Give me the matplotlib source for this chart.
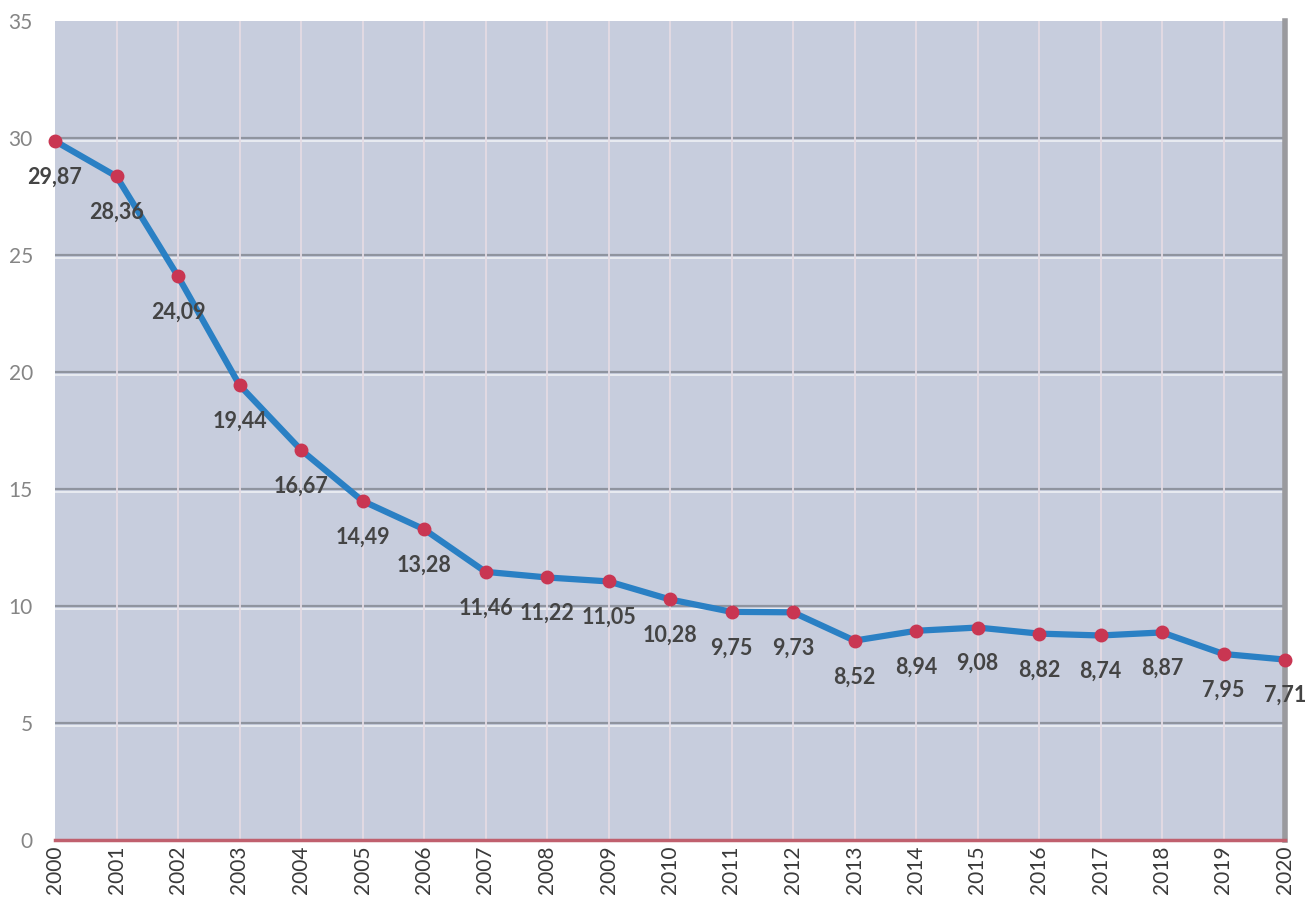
import matplotlib
matplotlib.use("Agg")
import matplotlib.pyplot as plt

years = list(range(2000, 2021))
values = [29.87, 28.36, 24.09, 19.44, 16.67, 14.49, 13.28, 11.46, 11.22, 11.05,
          10.28, 9.75, 9.73, 8.52, 8.94, 9.08, 8.82, 8.74, 8.87, 7.95, 7.71]
y_ticks = [0, 5, 10, 15, 20, 25, 30, 35]

fig = plt.figure(figsize=(13.06, 9.02), dpi=100)
fig.patch.set_facecolor("white")
ax = fig.add_axes([55/1306, 1-840/902, (1285-55)/1306, (840-21)/902])
ax.set_facecolor("#c7cddd")

ax.set_xlim(2000, 2020)
ax.set_ylim(0, 35)

# grid
for yv in y_ticks[1:-1]:
    ax.axhline(yv, color="#8f949f", lw=1.6, zorder=1)
    ax.axhline(yv - 0.12, color="#eef0f5", lw=1.2, zorder=1)
for xv in years[1:-1]:
    ax.axvline(xv, color="#e4dbe3", lw=1.3, zorder=1)

ax.plot(years, values, color="#2a80c4", lw=4.5, zorder=3, clip_on=False,
        solid_joinstyle="round")
ax.plot(years, values, ls="none", marker="o", ms=9, color="#c93652",
        mec="#c93652", zorder=4, clip_on=False)

for x, v in zip(years, values):
    ax.annotate(f"{v:.2f}".replace(".", ","), (x, v), xytext=(0, -26),
                textcoords="offset points", ha="center", va="center",
                fontsize=15.5, fontweight="bold", family=["Lato", "DejaVu Sans"],
                color="#444444", zorder=5)

for s in ["top", "left"]:
    ax.spines[s].set_visible(False)
ax.spines["bottom"].set_color("#c0606e")
ax.spines["bottom"].set_linewidth(2.5)
ax.spines["right"].set_color("#9a9a9e")
ax.spines["right"].set_linewidth(4)

ax.set_xticks(years)
ax.set_xticklabels([str(y) for y in years], rotation=90, fontsize=15,
                   family=["Lato", "DejaVu Sans"], color="#3a3a3a")
ax.set_yticks(y_ticks)
ax.set_yticklabels([str(t) for t in y_ticks], fontsize=15,
                   family=["Lato", "DejaVu Sans"], color="#858585")
ax.tick_params(axis="both", length=0)
ax.tick_params(axis="y", pad=16)
ax.tick_params(axis="x", pad=4)

fig.savefig("out.png", dpi=100)
